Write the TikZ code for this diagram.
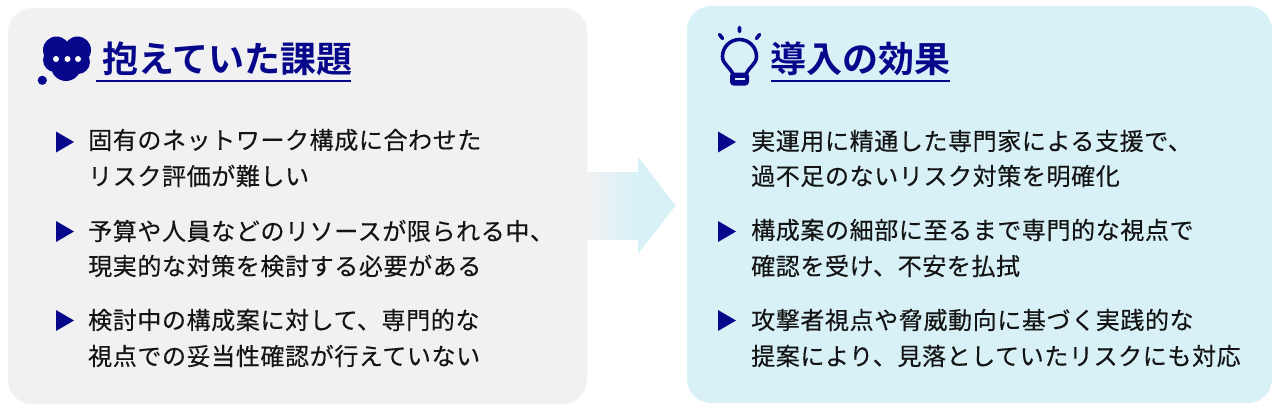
\documentclass[tikz,border=0pt]{standalone}
\usepackage{fontspec}
\setmainfont{Liberation Sans}
\newfontfamily\bodyjp[LetterSpace=2.55,FakeBold=0.3]{Noto Sans CJK JP}
\newfontfamily\headjp{Noto Sans CJK JP Bold}
\usetikzlibrary{shadings}
\definecolor{navy}{HTML}{07078C}
\definecolor{greybg}{HTML}{F1F1F2}
\definecolor{bluebg}{HTML}{D7F1F7}
\definecolor{ink}{HTML}{141414}
\tikzset{
  panel/.style={draw=none,rounded corners=24pt},
  title/.style={anchor=west,inner sep=0pt,text=navy,font=\fontsize{36}{38}\headjp},
  rule/.style={draw=navy,line width=2pt},
  item/.style={anchor=west,inner sep=0pt,text=ink,font=\fontsize{24}{24}\bodyjp},
  bullet/.style={fill=navy,draw=none},
}
\begin{document}
\begin{tikzpicture}[x=1pt,y=-1pt]
\useasboundingbox (0,0) rectangle (1280,410);
\fill[white] (0,0) rectangle (1280,410);
% panels
\fill[greybg,panel] (8,8) rectangle (587,404);
\fill[bluebg,panel] (687,6) rectangle (1272,403);
% arrow
\shade[left color=greybg,right color=bluebg,draw=none] (587,172) rectangle (638.5,239);
\fill[bluebg] (638,157) -- (675.5,205.5) -- (638,254) -- cycle;
% left icon
\fill[navy] (56.5,50) circle (13.5) (77.5,50) circle (13.5) (66,66) circle (15) (55,60) circle (12) (78,62) circle (12);
\fill[navy] (42.3,80.3) circle (4.6);
\fill[white] (56,59) circle (3) (67.5,59) circle (3) (78,59) circle (3);
% right icon
\draw[navy,line width=3.6pt] (733,74) .. controls (730,67) and (722.5,64) .. (722.5,56.5) arc[start angle=180,end angle=360,radius=17] .. controls (756.5,64) and (749,67) .. (746,74);
\fill[navy,rounded corners=3.5pt] (730,72.5) rectangle (749,85.5);
\fill[bluebg] (734.5,78) rectangle (744.5,79.5);
\draw[navy,line width=3.6pt,line cap=round] (739.5,27.5) -- (739.5,31.5) (719.5,34.5) -- (722.5,38.5) (759.5,34.5) -- (756.5,38.5);
% titles
\node[title] (t1) at (102.3,58.5) {抱えていた課題};
\node[title] (t2) at (770.5,58.5) {導入の効果};
\draw[rule] (96,80.5) -- (351,80.5);
\draw[rule] (771,80.5) -- (950,80.5);
% bullets
\foreach \y in {142,231.5,320.5}{
  \fill[bullet] (56,\y-10.5) -- (74,\y) -- (56,\y+10.5) -- cycle;
  \fill[bullet] (718,\y-10.5) -- (736,\y) -- (718,\y+10.5) -- cycle;
}
% left text
\node[item] (l1) at (88,140) {固有のネットワーク構成に合わせた};
\node[item] (l2) at (88,176) {リスク評価が難しい};
\node[item] (l3) at (88,231) {予算や人員などのリソースが限られる中、};
\node[item] (l4) at (88,266) {現実的な対策を検討する必要がある};
\node[item] (l5) at (88,320) {検討中の構成案に対して、専門的な};
\node[item] (l6) at (88,356) {視点での妥当性確認が行えていない};
% right text
\node[item] (r1) at (751,141) {実運用に精通した専門家による支援で、};
\node[item] (r2) at (751,176) {過不足のないリスク対策を明確化};
\node[item] (r3) at (751,230) {構成案の細部に至るまで専門的な視点で};
\node[item] (r4) at (751,266) {確認を受け、不安を払拭};
\node[item] (r5) at (751,320) {攻撃者視点や脅威動向に基づく実践的な};
\node[item] (r6) at (751,356) {提案により、見落としていたリスクにも対応};
\end{tikzpicture}
\end{document}
